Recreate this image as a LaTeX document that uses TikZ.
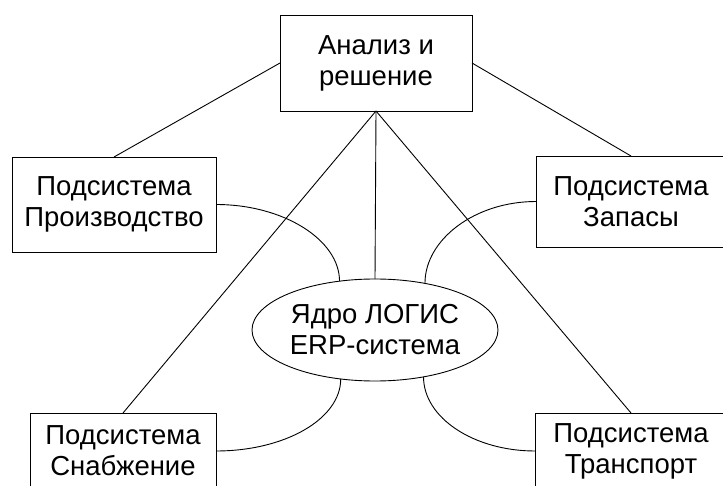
\documentclass[tikz,border=0pt]{standalone}
\usepackage{fontspec}
\setmainfont{Liberation Sans}
\usetikzlibrary{shapes.geometric}

\begin{document}
\begin{tikzpicture}[x=1pt, y=1pt, line width=0.9pt,
    block/.style={draw, rectangle, align=center, inner sep=0pt, outer sep=0pt,
      font=\fontsize{27.5}{31}\selectfont},
    core/.style={draw, ellipse, align=center, inner sep=0pt, outer sep=0pt,
      minimum width=246, minimum height=102, font=\fontsize{27.5}{31}\selectfont}]
      \useasboundingbox (0, 0) rectangle (723, 485);
      \clip (0, 0) rectangle (723, 485);

      \node[block, minimum width=192, minimum height=96] (analiz) at (376, 422) {Анализ и\\решение};
      \node[block, minimum width=204, minimum height=95] (proizv) at (114, 280.5) {Подсистема\\Производство};
      \node[block, minimum width=190, minimum height=91] (zapasy) at (631, 283.5) {Подсистема\\Запасы};
      \node[block, minimum width=186, minimum height=76] (snab) at (123, 34) {Подсистема\\Снабжение};
      \node[block, minimum width=192, minimum height=76] (transp) at (631, 34) {Подсистема\\Транспорт};
      \node[core] (yadro) at (375, 155) {Ядро ЛОГИС\\ERP-система};

      % links from the top box
      \draw (analiz.west) -- (proizv.north);
      \draw (analiz.east) -- (zapasy.north);
      \draw (analiz.south) -- (yadro.north);
      \draw (analiz.south) -- (snab.north);
      \draw (analiz.south) -- (transp.north);

      % arcs to the core
      \draw (proizv.east) .. controls +(68, 0) and +(0, 41) .. (yadro.126);
      \draw (zapasy.west) .. controls +(-61, 0) and +(0, 44) .. (yadro.43);
      \draw (snab.east) .. controls +(69, 0) and +(0, -40) .. (yadro.235);
      \draw (transp.west) .. controls +(-61, 0) and +(0, -41) .. (yadro.316);
\end{tikzpicture}
\end{document}
